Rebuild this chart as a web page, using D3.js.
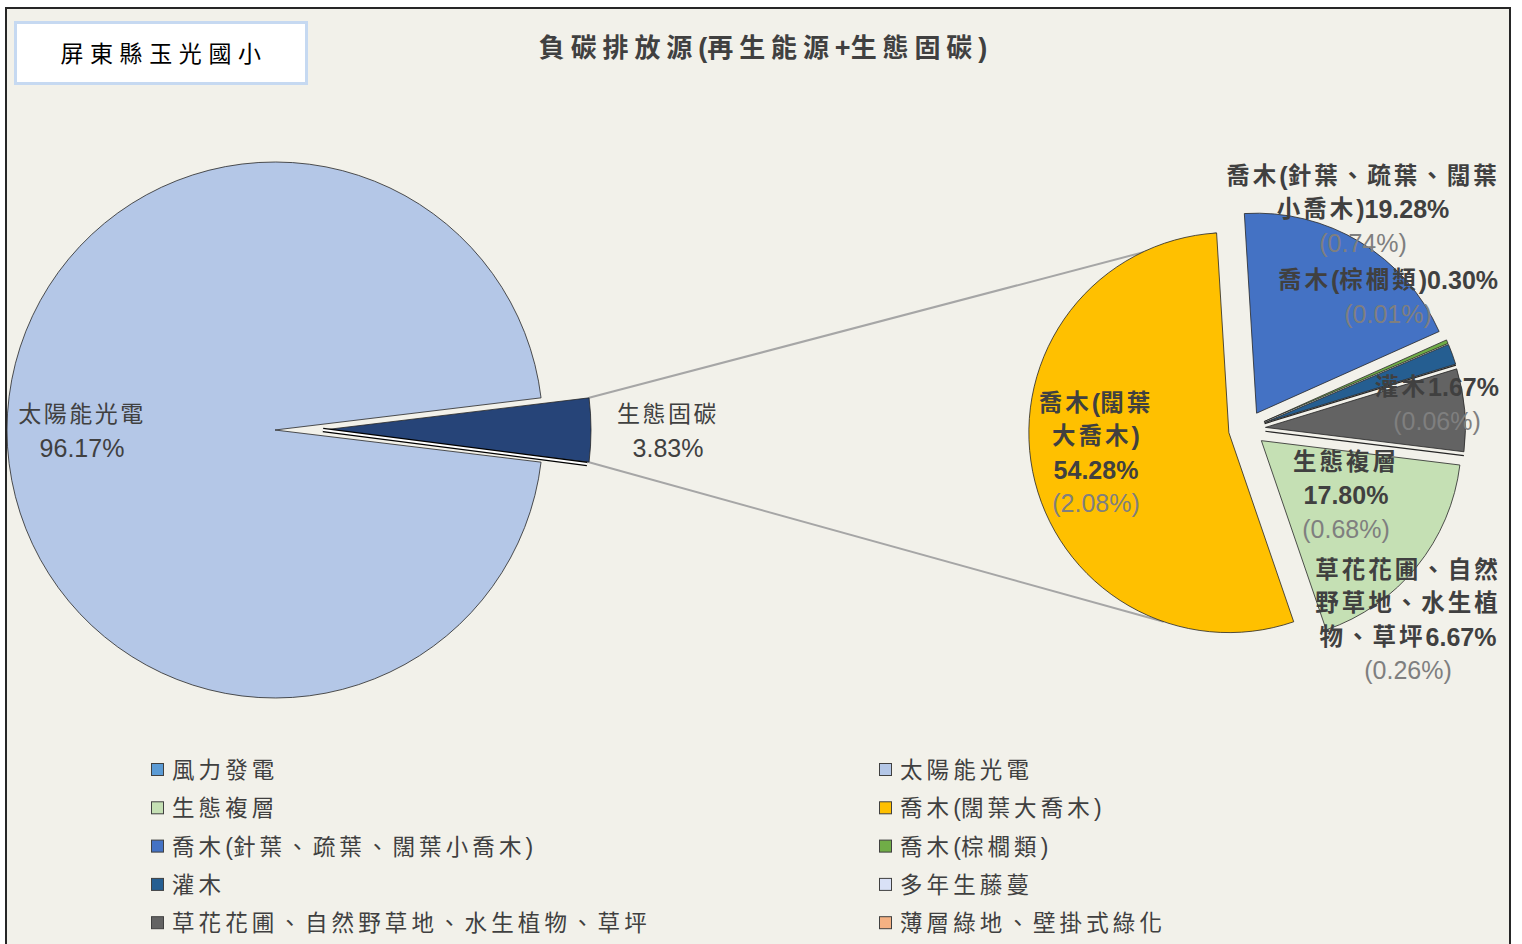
<!DOCTYPE html>
<html><head><meta charset="utf-8">
<script src="https://cdn.jsdelivr.net/npm/d3@7"></script>
<style>body{margin:0;background:#fff;} svg{display:block}</style>
</head><body>
<svg id="chart" width="1522" height="944"></svg>
<script>
// ---------------- DATA ----------------
const schoolName = "屏東縣玉光國小";
const chartTitle = "負碳排放源(再生能源+生態固碳)";

// Primary pie
const mainCategories = ["風力發電", "太陽能光電", "生態固碳"];
const mainValues = [0, 96.17, 3.83];
const mainColors = ["#5b9bd5", "#b4c7e7", "#264478"];

// Secondary pie (breakdown of 生態固碳)
const subCategories = ["生態複層", "喬木(闊葉大喬木)", "喬木(針葉、疏葉、闊葉小喬木)", "喬木(棕櫚類)", "灌木", "多年生藤蔓", "草花花圃、自然野草地、水生植物、草坪", "薄層綠地、壁掛式綠化"];
const subShares = [17.80, 54.28, 19.28, 0.30, 1.67, 0, 6.67, 0];      // % within 生態固碳
const subTotalShares = [0.68, 2.08, 0.74, 0.01, 0.06, 0, 0.26, 0];    // % of total
const subColors = ["#c5e0b4", "#ffc000", "#4472c4", "#70ad47", "#255e91", "#d9e1f7", "#636363", "#f4b183"];

// Legend (row-major, 2 columns)
const legendItems = ["風力發電", "太陽能光電", "生態複層", "喬木(闊葉大喬木)", "喬木(針葉、疏葉、闊葉小喬木)", "喬木(棕櫚類)", "灌木", "多年生藤蔓", "草花花圃、自然野草地、水生植物、草坪", "薄層綠地、壁掛式綠化"];
const legendColors = ["#5b9bd5", "#b4c7e7", "#c5e0b4", "#ffc000", "#4472c4", "#70ad47", "#255e91", "#d9e1f7", "#636363", "#f4b183"];

// ---------------- LAYOUT ----------------
const W = 1522, H = 944;
const bg = "#f2f1ea";
const txt = "#404040";
const grayTxt = "#7f7f7f";
const FONT = "'Liberation Sans','Noto Sans CJK TC',sans-serif";

const main = {cx: 275, cy: 430, r: 268, explode: 48};
const sub = {cx: 1247, cy: 429, r: 200, explode: 18.5, start: 97 * Math.PI / 180};
const bottomConnectorAngle = 199 * Math.PI / 180;

// label layout for secondary pie: offsets from sub centre, wrap points (char counts)
const subLabelLayout = [
  {dx: 99,  dy: 66,  breaks: [4]},
  {dx: -151, dy: 24, breaks: [5, 9]},
  {dx: 116, dy: -220, breaks: [11]},
  {dx: 141, dy: -132, breaks: []},
  {dx: 190, dy: -25, breaks: []},
  null,
  {dx: 161, dy: 191, breaks: [7, 14]},
  null
];
const lineH = 33.5;

const svg = d3.select("#chart");
svg.append("rect").attr("width", W).attr("height", H).attr("fill", "#fff");
svg.append("rect").attr("x", 6).attr("y", 8).attr("width", 1504).attr("height", H + 10)
  .attr("fill", bg).attr("stroke", "#262626").attr("stroke-width", 2);

const cjkRe = /[\u2E80-\u9FFF\uF900-\uFAFF\uFF00-\uFFEF\u3000-\u303F]/;
function mixed(textSel, str, o) {
  const runs = [];
  for (const ch of str) {
    const c = cjkRe.test(ch);
    if (runs.length && runs[runs.length - 1].c === c) runs[runs.length - 1].t += ch;
    else runs.push({c, t: ch});
  }
  runs.forEach(r => textSel.append("tspan").text(r.t)
    .attr("font-size", r.c ? o.cjk : o.latin)
    .attr("letter-spacing", r.c ? o.ls : 0));
  return textSel;
}

// School box
svg.append("rect").attr("x", 15.5).attr("y", 22.5).attr("width", 291).attr("height", 61)
  .attr("fill", "#fff").attr("stroke", "#c6d9f1").attr("stroke-width", 3);
mixed(svg.append("text").attr("x", 164).attr("y", 54).attr("text-anchor", "middle")
  .attr("dominant-baseline", "central").attr("font-family", FONT).attr("fill", "#000"),
  schoolName, {cjk: 23, latin: 24, ls: 6.6});

// Title
mixed(svg.append("text").attr("x", 763).attr("y", 48).attr("text-anchor", "middle")
  .attr("dominant-baseline", "central").attr("font-family", FONT).attr("font-weight", "bold").attr("fill", txt),
  chartTitle, {cjk: 26, latin: 27, ls: 5.9});

// ---------------- PIES ----------------
const mainA0 = Math.PI / 2 + mainValues[2] / 100 * Math.PI;
const mainPie = d3.pie().sort(null).value(d => d).startAngle(mainA0).endAngle(mainA0 + 2 * Math.PI)(mainValues);
const subPie = d3.pie().sort(null).value(d => d).startAngle(sub.start).endAngle(sub.start + 2 * Math.PI)(subShares);

const mainArc = d3.arc().innerRadius(0).outerRadius(main.r);
const subArc = d3.arc().innerRadius(0).outerRadius(sub.r);

const otherIdx = 2;
const oMid = (mainPie[otherIdx].startAngle + mainPie[otherIdx].endAngle) / 2;
const oOff = [main.explode * Math.sin(oMid), -main.explode * Math.cos(oMid)];
const pt = (a, r) => [r * Math.sin(a), -r * Math.cos(a)];

function subOff(d) {
  const m = (d.startAngle + d.endAngle) / 2;
  return [sub.explode * Math.sin(m), -sub.explode * Math.cos(m)];
}

// Connector lines (behind slices)
const conn = svg.append("g").attr("stroke", "#a6a6a6").attr("stroke-width", 2).attr("fill", "none");
{
  const o = mainPie[otherIdx];
  const p1 = pt(o.startAngle, main.r), p2 = pt(o.endAngle, main.r);
  const y = subPie[1], yo = subOff(y);
  const q1 = pt(y.endAngle, sub.r), q2 = pt(bottomConnectorAngle, sub.r);
  conn.append("line")
    .attr("x1", main.cx + oOff[0] + p1[0]).attr("y1", main.cy + oOff[1] + p1[1])
    .attr("x2", sub.cx + yo[0] + q1[0]).attr("y2", sub.cy + yo[1] + q1[1]);
  conn.append("line")
    .attr("x1", main.cx + oOff[0] + p2[0]).attr("y1", main.cy + oOff[1] + p2[1])
    .attr("x2", sub.cx + yo[0] + q2[0]).attr("y2", sub.cy + yo[1] + q2[1]);
}

// Primary pie
const gMain = svg.append("g").attr("transform", `translate(${main.cx},${main.cy})`);
mainPie.forEach((d, i) => {
  if (d.data === 0) return;
  const off = i === otherIdx ? oOff : [0, 0];
  gMain.append("path").attr("d", mainArc(d)).attr("transform", `translate(${off[0]},${off[1]})`)
    .attr("fill", mainColors[i]).attr("stroke", "#262626").attr("stroke-width", 0.8);
});
// zero-value slice (風力發電) drawn as an outlined sliver next to exploded slice
mainPie.forEach((d, i) => {
  if (d.data !== 0) return;
  const p = pt(d.startAngle, main.r - 2);
  const line = gMain.append("g").attr("transform", `translate(${oOff[0]},${oOff[1]})`);
  line.append("line").attr("x1", 0).attr("y1", 0).attr("x2", p[0]).attr("y2", p[1] + 2)
    .attr("stroke", "#000").attr("stroke-width", 4.5);
  line.append("line").attr("x1", 0).attr("y1", 0).attr("x2", p[0]).attr("y2", p[1] + 2)
    .attr("stroke", "#fff").attr("stroke-width", 2);
});

// Secondary pie
const gSub = svg.append("g").attr("transform", `translate(${sub.cx},${sub.cy})`);
subPie.forEach((d, i) => {
  const off = subOff(d);
  gSub.append("path").attr("d", subArc(d)).attr("transform", `translate(${off[0]},${off[1]})`)
    .attr("fill", d.data === 0 ? "none" : subColors[i])
    .attr("stroke", "#262626").attr("stroke-width", d.data === 0 ? 1.2 : 0.8);
});

// ---------------- LABELS ----------------
function label(x, y, lines, pct, boldLines, opts) {
  const n = lines.length + 1;
  const y0 = y - (n - 1) * lineH / 2;
  lines.forEach((l, k) => {
    mixed(svg.append("text").attr("x", x).attr("y", y0 + k * lineH).attr("text-anchor", "middle")
      .attr("dominant-baseline", "central").attr("font-family", FONT)
      .attr("font-weight", boldLines ? "bold" : "normal").attr("fill", txt), l, opts);
  });
  mixed(svg.append("text").attr("x", x).attr("y", y0 + lines.length * lineH).attr("text-anchor", "middle")
    .attr("dominant-baseline", "central").attr("font-family", FONT).attr("fill", opts.pctColor || txt), pct, opts);
}
const fmt = v => v.toFixed(2) + "%";

// primary labels
label(82, 431, [mainCategories[1]], fmt(mainValues[1]), false, {cjk: 23, latin: 25, ls: 2.5});
label(668, 431, [mainCategories[2]], fmt(mainValues[2]), false, {cjk: 23, latin: 25, ls: 2.5});

// secondary labels
subPie.forEach((d, i) => {
  const L = subLabelLayout[i];
  if (!L) return;
  const full = Array.from(subCategories[i] + fmt(subShares[i]));
  const lines = [];
  let prev = 0;
  L.breaks.concat([full.length]).forEach(b => { lines.push(full.slice(prev, b).join("")); prev = b; });
  label(sub.cx + L.dx, sub.cy + L.dy, lines, "(" + fmt(subTotalShares[i]) + ")", true,
    {cjk: 23.5, latin: 25, ls: 3, pctColor: grayTxt});
});

// ---------------- LEGEND ----------------
const legX = [151, 879], legY0 = 770, legDY = 38.3;
legendItems.forEach((name, i) => {
  const col = i % 2, row = Math.floor(i / 2);
  const x = legX[col], y = legY0 + row * legDY;
  svg.append("rect").attr("x", x + 0.5).attr("y", y - 6.5).attr("width", 12).attr("height", 12)
    .attr("fill", legendColors[i]).attr("stroke", "#404040").attr("stroke-width", 1);
  mixed(svg.append("text").attr("x", x + 21).attr("y", y).attr("dominant-baseline", "central")
    .attr("font-family", FONT).attr("fill", txt), name, {cjk: 22.5, latin: 23, ls: 4.1});
});
</script>
</body></html>
